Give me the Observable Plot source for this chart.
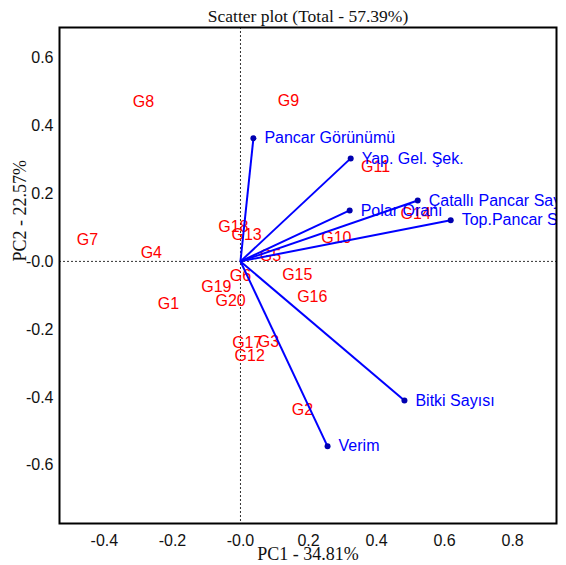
<!DOCTYPE html>
<html>
<head>
<meta charset="utf-8">
<script src="https://cdn.jsdelivr.net/npm/d3@7"></script>
<script src="https://cdn.jsdelivr.net/npm/@observablehq/plot@0.6"></script>
<style>
  html, body { margin: 0; padding: 0; background: #fff; }
</style>
</head>
<body>
<div id="chart"></div>
<script>
// Genotype scores on the first two principal components
const genotypes = ["G1","G2","G3","G4","G5","G6","G7","G8","G9","G10",
                   "G11","G12","G13","G14","G15","G16","G17","G18","G19","G20"];
const genoPC1 = [-0.212, 0.182, 0.082, -0.262, 0.088, 0.000, -0.450, -0.285, 0.141, 0.282,
                 0.397, 0.027, 0.018, 0.515, 0.167, 0.211, 0.020, -0.021, -0.071, -0.029];
const genoPC2 = [-0.124, -0.438, -0.238, 0.024, 0.015, -0.044, 0.062, 0.468, 0.471, 0.068,
                 0.279, -0.279, 0.079, 0.141, -0.041, -0.105, -0.240, 0.103, -0.074, -0.115];

// Trait loadings (vectors from the origin)
const traits = ["Pancar Görünümü", "Yap. Gel. Şek.", "Çatallı Pancar Sayısı", "Polar Oranı",
                "Top.Pancar Sayısı", "Bitki Sayısı", "Verim"];
const traitPC1 = [0.038, 0.324, 0.521, 0.321, 0.618, 0.482, 0.256];
const traitPC2 = [0.362, 0.303, 0.179, 0.150, 0.121, -0.409, -0.544];

const xTicks = [-0.4, -0.2, 0.0, 0.2, 0.4, 0.6, 0.8];
const yTicks = [-0.6, -0.4, -0.2, 0.0, 0.2, 0.4, 0.6];

const title = "Scatter plot (Total - 57.39%)";
const xLabel = "PC1 - 34.81%";
const yLabel = "PC2 - 22.57%";

const genoData = genotypes.map((g, i) => ({name: g, x: genoPC1[i], y: genoPC2[i]}));
const traitData = traits.map((t, i) => ({name: t, x: traitPC1[i], y: traitPC2[i]}));

const fmt = d => (d === 0 ? "-0.0" : d.toFixed(1));
const sans = "'Liberation Sans', Arial, sans-serif";
const serif = "'Liberation Serif', 'Times New Roman', serif";

const chart = Plot.plot({
  width: 566,
  height: 565,
  marginLeft: 59,
  marginRight: 10,
  marginTop: 27,
  marginBottom: 42,
  style: {fontFamily: sans, fontSize: "16px", background: "#fff", overflow: "visible"},
  x: {domain: [-0.532, 0.929], ticks: xTicks, tickFormat: fmt, label: null},
  y: {domain: [-0.771, 0.688], ticks: yTicks, tickFormat: fmt, label: null},
  marks: [
    Plot.axisX({ticks: xTicks, tickFormat: fmt, tickSize: 0, tickPadding: 11, fontSize: 16, fill: "#111", label: null}),
    Plot.axisY({ticks: yTicks, tickFormat: fmt, tickSize: 0, tickPadding: 6, fontSize: 16, fill: "#111", label: null}),
    Plot.ruleY([0], {stroke: "#333", strokeWidth: 1, strokeDasharray: "2,2"}),
    Plot.ruleX([0], {stroke: "#333", strokeWidth: 1, strokeDasharray: "2,2"}),
    Plot.text(genoData, {x: "x", y: "y", text: "name", fill: "#ff0000", fontSize: 16, fontFamily: sans}),
    Plot.link(traitData, {x1: 0, y1: 0, x2: "x", y2: "y", stroke: "#0000ff", strokeWidth: 2}),
    Plot.dot(traitData, {x: "x", y: "y", r: 3, fill: "#0000b0", stroke: "none"}),
    Plot.text(traitData, {x: "x", y: "y", text: "name", fill: "#0000ff", fontSize: 16, fontFamily: sans,
                          textAnchor: "start", dx: 11, clip: true}),
    Plot.frame({stroke: "#000", strokeWidth: 2}),
    Plot.text([title], {frameAnchor: "top", lineAnchor: "middle", dy: -11, text: d => d,
                        fontFamily: serif, fontSize: 17.5, fill: "#111"}),
    Plot.text([xLabel], {frameAnchor: "bottom", lineAnchor: "middle", dy: 31, text: d => d,
                         fontFamily: serif, fontSize: 18, fill: "#111"}),
    Plot.text([yLabel], {frameAnchor: "left", lineAnchor: "middle", dx: -39, dy: -14, rotate: -90, text: d => d,
                         fontFamily: serif, fontSize: 18, fill: "#111"})
  ]
});

document.getElementById("chart").appendChild(chart);
</script>
</body>
</html>
